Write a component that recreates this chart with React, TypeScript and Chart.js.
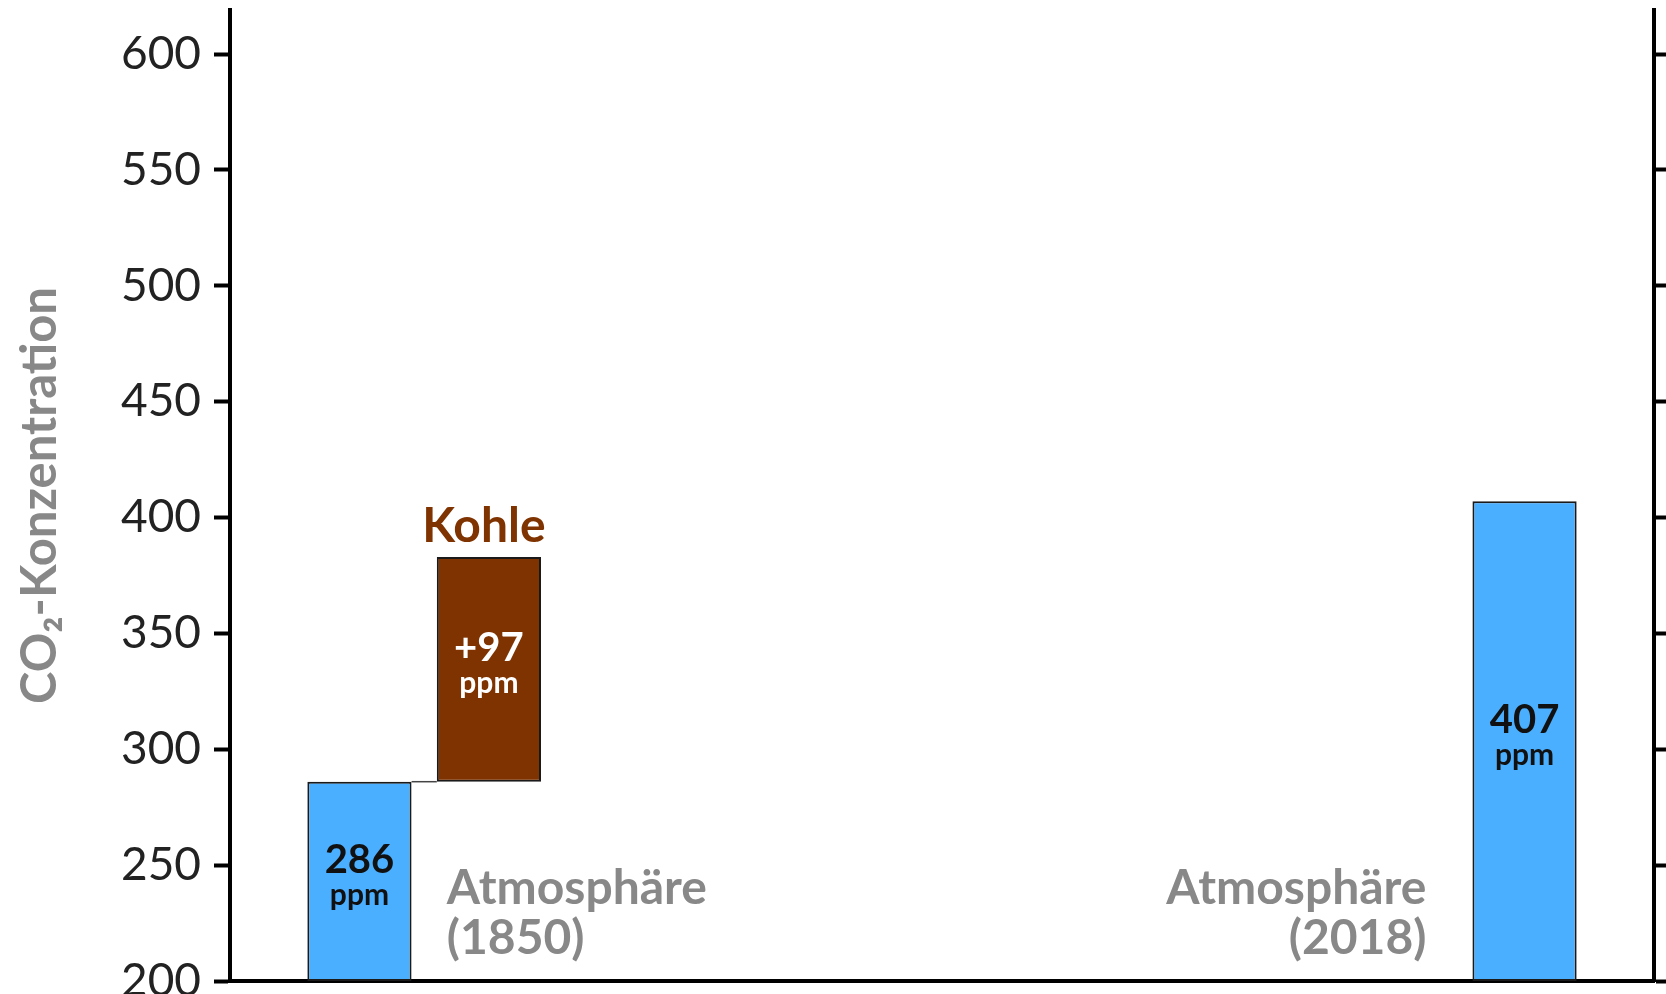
import React, { useEffect, useRef } from "react";
import { Chart, registerables } from "chart.js";

Chart.register(...registerables);

// Category slots along the x axis (blank slots are empty space)
const categories = ["", "Atmosphäre (1850)", "Kohle", "", "", "", "", "", "", "", "Atmosphäre (2018)", ""];
const atmosphere1850 = 286;
const coalAddition = 97;
const atmosphere2018 = 407;
const yTicks = [200, 250, 300, 350, 400, 450, 500, 550, 600];
const yMin = 200;
const yMax = 619;
const yTitle = "CO₂-Konzentration";

const BLUE = "#4BAFFF";
const BROWN = "#7F3300";
const GRAY = "#888888";

function buildData() {
  return categories.map((c) => {
    if (c === "Atmosphäre (1850)") return [yMin, atmosphere1850];
    if (c === "Kohle") return [atmosphere1850, atmosphere1850 + coalAddition];
    if (c === "Atmosphäre (2018)") return [yMin, atmosphere2018];
    return null;
  });
}
function buildColors() {
  return categories.map((c) => (c === "Kohle" ? BROWN : BLUE));
}
function buildLabels() {
  return categories.map((c) => {
    if (c === "Atmosphäre (1850)") return { num: String(atmosphere1850), color: "#111111" };
    if (c === "Kohle") return { num: "+" + coalAddition, color: "#FFFFFF" };
    if (c === "Atmosphäre (2018)") return { num: String(atmosphere2018), color: "#111111" };
    return null;
  });
}

const annotationPlugin = {
  id: "annotations",
  afterDatasetsDraw(chart: any) {
    const ctx = chart.ctx;
    const meta = chart.getDatasetMeta(0);
    const labels = buildLabels();
    const area = chart.chartArea;
    const i1850 = categories.indexOf("Atmosphäre (1850)");
    const iCoal = categories.indexOf("Kohle");
    const i2018 = categories.indexOf("Atmosphäre (2018)");
    ctx.save();
    // connector line
    const b1: any = meta.data[i1850];
    const b2: any = meta.data[iCoal];
    const b3: any = meta.data[i2018];
    ctx.strokeStyle = "#444444";
    ctx.lineWidth = 1.5;
    ctx.beginPath();
    ctx.moveTo(b1.x + b1.width / 2, b1.y);
    ctx.lineTo(b2.x - b2.width / 2, b1.y);
    ctx.stroke();

    // value labels inside bars
    ctx.textAlign = "center";
    ctx.textBaseline = "alphabetic";
    labels.forEach((lab, i) => {
      if (!lab) return;
      const el: any = meta.data[i];
      const cy = (el.y + el.base) / 2;
      ctx.fillStyle = lab.color;
      ctx.font = "bold 40px Lato";
      ctx.fillText(lab.num, el.x, cy - 8);
      ctx.font = "bold 30px Lato";
      ctx.fillText("ppm", el.x, cy + 24);
    });

    // Kohle title
    ctx.fillStyle = BROWN;
    ctx.font = "bold 48px Lato";
    ctx.textAlign = "center";
    ctx.fillText("Kohle", b2.x - 5, b2.y - 15);

    // Atmosphäre labels
    ctx.fillStyle = GRAY;
    ctx.textAlign = "left";
    const left1 = b2.x - b2.width / 2 + 10;
    ctx.fillText("Atmosphäre", left1, area.bottom - 77);
    ctx.fillText("(1850)", left1, area.bottom - 27);
    ctx.textAlign = "right";
    const right2 = b3.x - b3.width / 2 - 46;
    ctx.fillText("Atmosphäre", right2, area.bottom - 77);
    ctx.fillText("(2018)", right2, area.bottom - 27);
    ctx.restore();
  },
};

export default function App() {
  const canvasRef = useRef<HTMLCanvasElement | null>(null);
  useEffect(() => {
    let chart: any = null;
    let cancelled = false;
    const make = () => {
      if (cancelled || !canvasRef.current) return;
      Chart.defaults.font.family = "Lato";
      const setTicks = (scale: any) => {
        scale.ticks = yTicks.map((v) => ({ value: v }));
      };
      chart = new Chart(canvasRef.current, {
        type: "bar",
        data: {
          labels: categories,
          datasets: [
            {
              data: buildData() as any,
              backgroundColor: buildColors(),
              borderColor: "#1a1a1a",
              borderWidth: 2,
              borderSkipped: false,
              categoryPercentage: 1,
              barPercentage: 0.805,
            },
          ],
        },
        options: {
          animation: false,
          responsive: true,
          maintainAspectRatio: false,
          layout: { padding: { top: 10, left: 0, right: 0, bottom: 0 } },
          plugins: { legend: { display: false }, tooltip: { enabled: false } },
          scales: {
            x: {
              type: "category",
              offset: false,
              ticks: { display: false },
              grid: { display: true, drawOnChartArea: false, drawTicks: false },
              border: { display: true, color: "#000000", width: 4 },
              afterFit: (s: any) => {
                s.height = 13;
              },
            },
            y: {
              position: "left",
              min: yMin,
              max: yMax,
              afterBuildTicks: setTicks,
              ticks: {
                font: { family: "Lato", size: 46 },
                color: "#222222",
                padding: 13,
              },
              grid: {
                drawOnChartArea: false,
                drawTicks: true,
                tickLength: 16,
                tickWidth: 4,
                tickColor: "#000000",
              },
              border: { display: true, color: "#000000", width: 4 },
              title: {
                display: true,
                text: yTitle,
                color: GRAY,
                font: { family: "Lato", size: 49, weight: "bold" },
                padding: { top: 11, bottom: 0 },
              },
              afterFit: (s: any) => {
                s.width = 230;
                s.paddingTop = 0;
                s.paddingBottom = 0;
              },
            },
            y2: {
              position: "right",
              min: yMin,
              max: yMax,
              afterBuildTicks: setTicks,
              ticks: { display: false },
              grid: {
                drawOnChartArea: false,
                drawTicks: true,
                tickLength: 12,
                tickWidth: 4,
                tickColor: "#000000",
              },
              border: { display: true, color: "#000000", width: 4 },
              afterFit: (s: any) => {
                s.width = 12;
                s.paddingTop = 0;
                s.paddingBottom = 0;
              },
            },
          },
        } as any,
        plugins: [annotationPlugin],
      });
    };
    const fontsApi: any = (document as any).fonts;
    if (fontsApi && fontsApi.load) {
      Promise.all([
        fontsApi.load("46px Lato"),
        fontsApi.load("bold 46px Lato"),
      ])
        .catch(() => null)
        .then(() => make());
    } else {
      make();
    }
    return () => {
      cancelled = true;
      if (chart) chart.destroy();
    };
  }, []);
  return (
    <div style={{ position: "absolute", left: 0, top: 0, width: 1666, height: 994, background: "#ffffff" }}>
      <canvas ref={canvasRef} />
    </div>
  );
}
